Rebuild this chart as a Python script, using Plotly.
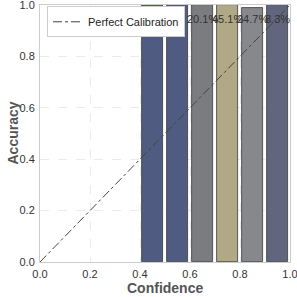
import plotly.graph_objects as go

bin_centers = [0.45, 0.55, 0.65, 0.75, 0.85, 0.95]
accuracy = [1.0, 1.0, 1.0, 1.0, 0.99, 1.0]
bin_share = ["", "", "20.1%", "45.1%", "24.7%", "8.3%"]
bar_colors = ["#4f5b80", "#4f5b80", "#7b7c80", "#b1a886", "#87888b", "#60667d"]
diag_x = [0.0, 1.0]
diag_y = [0.0, 1.0]
ticks = [0.0, 0.2, 0.4, 0.6, 0.8, 1.0]
tick_labels = ["0.0", "0.2", "0.4", "0.6", "0.8", "1.0"]

fig = go.Figure()
fig.add_trace(go.Bar(
    x=bin_centers, y=accuracy, width=0.085,
    marker=dict(color=bar_colors, line=dict(color="#3a3a3a", width=0.8)),
    showlegend=False, hoverinfo="skip",
))
for xc, t in zip(bin_centers, bin_share):
    if t:
        fig.add_annotation(x=xc, y=0.945, text=t, showarrow=False,
                           font=dict(size=11, color="#333333"), xanchor="center", yanchor="middle")
fig.add_trace(go.Scatter(
    x=diag_x, y=diag_y, mode="lines", name="Perfect Calibration",
    line=dict(color="#444444", width=1, dash="dashdot"),
))

fig.add_annotation(xref="paper", yref="paper", x=0.5, y=-0.10, yanchor="middle",
                   text="<b>Confidence</b>", showarrow=False,
                   font=dict(size=14, color="#555555"))
fig.add_annotation(xref="paper", yref="paper", x=-0.112, y=0.5, xanchor="center", yanchor="middle",
                   text="<b>Accuracy</b>", showarrow=False, textangle=-90,
                   font=dict(size=14, color="#555555"))

fig.update_layout(
    width=297, height=297,
    margin=dict(l=40, r=7, t=5, b=35),
    plot_bgcolor="white", paper_bgcolor="white",
    font=dict(family="Liberation Sans, Arial, sans-serif", size=11, color="#333333"),
    legend=dict(x=0.028, y=0.995, xanchor="left", yanchor="top",
                bgcolor="white", bordercolor="#cccccc", borderwidth=1,
                font=dict(size=11, color="#222222"),
                itemwidth=30),
    bargap=0,
)
fig.update_xaxes(range=[0, 1], tickvals=ticks, ticktext=tick_labels, automargin=False,
                 ticklabeloverflow="allow", ticklabelstandoff=2,
                 showgrid=True, gridcolor="#ebebeb", griddash="dash", gridwidth=1,
                 showline=True, linecolor="#cccccc", mirror=True, zeroline=False,
                 ticks="", ticklen=0)
fig.update_yaxes(range=[0, 1], tickvals=ticks, ticktext=tick_labels, automargin=False,
                 ticklabeloverflow="allow", ticklabelstandoff=2,
                 showgrid=True, gridcolor="#ebebeb", griddash="dash", gridwidth=1,
                 showline=True, linecolor="#cccccc", mirror=True, zeroline=False,
                 ticks="", ticklen=0)

fig.write_html("out.html", config={"displayModeBar": False},
               post_script="document.body.style.margin='0';document.body.style.overflow='hidden';")
